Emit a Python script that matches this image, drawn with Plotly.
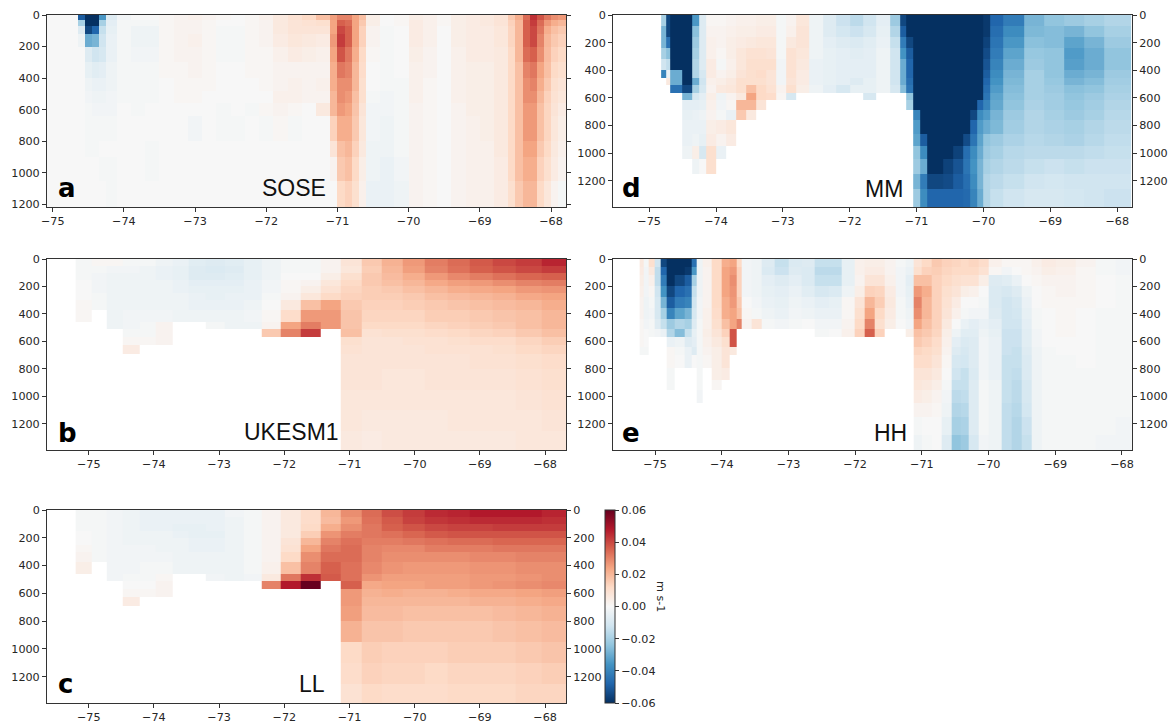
import numpy as np
import plotly.graph_objects as go

_ = None
W, H = 1176, 723
LON_TICKS = [-75, -74, -73, -72, -71, -70, -69, -68]
DEPTH_TICKS = [0, 200, 400, 600, 800, 1000, 1200]
CBAR_TICKS = [-0.06, -0.04, -0.02, 0.0, 0.02, 0.04, 0.06]
PANEL_NAMES = ["SOSE", "UKESM1", "LL", "MM", "HH"]
PANEL_LETTERS = ["a", "b", "c", "d", "e"]

# ---- values below are velocity in mm/s ----
sose_lon = [-75.08,-74.65,-74.55,-74.45,-74.35,-74.25,-74.1,-73.9,-73.7,-73.5,-73.3,-73.1,-72.9,-72.7,-72.5,-72.3,-72.1,-71.9,-71.7,-71.5,-71.3,-71.1,-71.0,-70.9,-70.8,-70.7,-70.6,-70.4,-70.2,-70,-69.8,-69.6,-69.4,-69.2,-69,-68.8,-68.6,-68.5,-68.4,-68.3,-68.2,-68.1,-68,-67.9,-67.79]
sose_depth = [0,30,70,120,200,300,400,480,560,640,800,900,1050,1217]
sose_vals = [
 [0,-50,-60,-60,-35,-8,-2,0,0,1, 2,3,2,1,0,1,3,6,9,12, 18,25,30,30,24,18,4,0,1,4, 3,1,4,5,6,8,16,22,34,44, 38,32,28,26],
 [0,-20,-60,-60,-20,-6,-1,-1,-1,1, 2,2,1,0,0,1,2,6,8,9, 10,24,36,34,24,16,4,0,1,5, 3,1,4,5,6,8,14,20,36,42, 34,26,22,20],
 [0,-8,-55,-48,-14,-5,-1,-3,-3,1, 2,2,1,-1,-1,1,2,6,8,8, 8,24,40,36,24,14,2,-1,0,5, 3,0,4,5,5,7,13,20,36,40, 32,22,18,16],
 [0,-3,-30,-28,-12,-4,-1,-3,-3,1, 2,3,1,-1,-1,1,2,5,7,6, 5,26,42,36,24,14,2,-1,0,5, 3,0,4,5,5,7,13,20,36,40, 30,20,16,14],
 [0,0,-8,-12,-10,-4,-1,-2,-2,1, 2,2,1,-1,-1,1,1,3,5,4, 3,24,38,32,22,12,1,-1,0,4, 2,0,3,5,5,6,12,20,34,36, 28,19,14,12],
 [0,0,-5,-7,-6,-3,-1,-1,-1,1, 1,2,1,0,0,1,1,2,2,2, 2,22,32,30,20,11,0,-1,0,3, 2,0,3,4,4,6,12,18,30,32, 24,18,12,10],
 [0,0,-3,-4,-4,-3,-1,-1,-1,0, 1,1,1,0,0,0,1,2,3,2, 3,22,28,28,20,10,0,-1,-1,3, 1,0,3,4,4,6,12,18,28,30, 22,16,10,8],
 [0,0,-2,-3,-3,-2,-1,-1,-1,0, 1,1,0,0,0,0,0,3,3,2, 2,20,28,26,18,10,-1,-2,-1,3, 1,0,3,4,4,6,12,18,28,28, 20,14,9,7],
 [0,0,-1,-2,-2,-2,0,-1,0,0, 0,0,0,-1,0,-1,1,2,1,0, 6,20,26,24,17,8,-2,-2,-1,2, 1,0,2,4,4,6,12,18,26,26, 18,13,8,5],
 [0,0,-1,-1,-1,-1,0,0,0,0, 0,-2,0,-1,-1,0,-1,1,-1,0, 0,14,22,22,16,7,-2,-3,-1,2, 1,0,2,3,4,6,12,18,26,26, 18,13,7,4],
 [0,0,-1,-1,0,0,0,0,-1,0, 0,0,0,0,0,0,0,0,0,0, 0,8,18,20,14,6,-3,-3,-1,2, 1,0,2,3,3,6,12,18,24,24, 16,12,6,3],
 [0,0,0,0,-1,-1,0,0,-1,0, 0,0,0,0,0,0,0,0,0,0, 0,2,16,18,12,4,-3,-4,-2,2, 1,0,2,3,3,5,12,18,22,22, 14,10,5,2],
 [0,0,0,0,0,-1,0,0,0,0, 0,0,0,0,0,0,0,0,0,0, 0,0,12,14,10,3,-4,-4,-3,2, 1,0,2,3,3,5,10,16,20,20, 12,7,2,-1],
]

model_lon = [-75.2,-74.96,-74.73,-74.48,-74.22,-73.97,-73.71,-73.46,-73.20,-72.92,-72.63,-72.35,-72.06,-71.75,-71.45,-71.13,-70.82,-70.51,-70.19,-69.85,-69.50,-69.16,-68.81,-68.45,-68.06,-67.66]
model_depth = [0,50,100,150,200,250,300,373,458,512,568,629,690,800,950,1100,1250,1390]
W15 = [_]*15
ukesm_vals = [
 [-1,1,1,-1,-1,-3,-4,-7,-8,-7, -5,-3,-1,-1,2, 8,16,21,26,31,34,37,40,42,46],
 [-1,-1,-2,-2,-3,-4,-5,-8,-9,-8, -5,-3,-1,-1,2, 7,15,20,25,30,33,36,38,40,42],
 [-1,-2,-3,-3,-3,-4,-5,-8,-8,-7, -5,-3,0,0,4, 10,16,19,22,26,29,31,33,35,36],
 [0,-2,-3,-3,-3,-3,-4,-6,-6,-6, -4,-2,1,2,7, 12,16,18,20,23,25,26,28,30,31],
 [0,-2,-3,-3,-3,-3,-4,-5,-5,-5, -4,-2,1,4,9, 13,15,16,18,20,22,23,24,26,27],
 [0,-1,-3,-3,-3,-3,-3,-4,-5,-4, -4,-1,2,7,12, 14,15,15,16,18,19,20,21,23,24],
 [1,-1,-3,-3,-3,-3,-3,-4,-4,-4, -3,0,6,18,24, 16,14,14,15,16,17,18,19,20,22],
 [1,_,-3,-2,-2,-2,-3,-3,-3,-3, -2,1,11,26,26, 17,13,13,13,15,15,16,17,18,20],
 [_,_,-3,-2,-1,2,_,_,-1,-3, -3,2,24,31,26, 17,12,12,12,13,14,15,16,18,20],
 [_,_,_,-1,-1,2,_,_,_,_, _,16,30,42,_, 18,9,10,10,11,12,13,14,16,18],
 [_,_,_,1,1,2,_,_,_,_, _,_,_,_,_, 10,8,8,9,9,10,11,11,13,15],
 [_,_,_,5,_,_,_,_,_,_, _,_,_,_,_, 9,8,8,8,9,9,9,10,12,13],
 [*W15, 8,8,8,8,8,8,9,9,10,11],
 [*W15, 8,8,7,7,8,8,8,8,9,10],
 [*W15, 7,7,7,7,7,7,7,7,8,9],
 [*W15, 7,6,6,6,6,7,7,7,7,8],
 [*W15, 6,5,6,6,6,6,6,6,7,7],
]
ll_vals = [
 [-1,-1,-2,-3,-4,-4,-4,-4,-4,-2, -1,2,6,11,20, 28,34,39,42,45,46,48,48,48,46],
 [-1,-1,-2,-3,-4,-4,-4,-4,-4,-3, -1,2,6,11,19, 26,33,37,41,43,44,45,45,45,44],
 [-1,-1,-2,-3,-4,-4,-5,-5,-4,-3, -1,2,6,12,22, 28,32,36,38,40,41,41,42,42,42],
 [0,-1,-2,-3,-3,-3,-4,-5,-5,-3, -1,2,6,15,27, 31,32,33,35,37,38,38,38,38,38],
 [0,-1,-2,-3,-3,-3,-3,-4,-4,-3, -1,2,8,20,30, 33,31,31,32,33,34,34,35,35,35],
 [1,-1,-2,-2,-2,-3,-3,-4,-4,-3, -1,2,9,24,32, 34,30,29,29,31,31,31,32,32,32],
 [2,-1,-2,-2,-2,-2,-3,-3,-3,-3, -1,2,12,28,34, 34,30,28,28,28,28,29,29,30,30],
 [4,_,-2,-2,-1,-1,-3,-3,-3,-3, -1,3,18,30,36, 33,29,27,26,26,26,27,27,28,28],
 [_,_,-2,-1,-1,1,_,_,-2,-3, -2,6,32,44,37, 33,27,25,25,25,25,26,26,27,28],
 [_,_,_,0,0,2,_,_,_,_, _,30,48,60,_, 36,23,24,24,25,25,26,27,28,29],
 [_,_,_,1,1,2,_,_,_,_, _,_,_,_,_, 26,21,22,21,21,22,23,23,24,25],
 [_,_,_,5,_,_,_,_,_,_, _,_,_,_,_, 26,20,20,20,20,20,21,21,22,23],
 [*W15, 25,19,19,18,18,18,18,19,20,21],
 [*W15, 21,17,17,16,16,16,16,17,18,19],
 [*W15, 12,15,14,14,14,15,15,15,16,17],
 [*W15, 11,14,13,13,12,13,13,13,14,15],
 [*W15, 9,12,11,11,11,12,12,12,13,13],
]

mm_lon = [-74.82,-74.75,-74.68,-74.5,-74.35,-74.25,-74.15,-74.0,-73.85,-73.7,-73.55,-73.4,-73.25,-73.1,-72.95,-72.8,-72.6,-72.4,-72.2,-72.0,-71.8,-71.6,-71.4,-71.25,-71.15,-71.05,-70.95,-70.85,-70.6,-70.45,-70.3,-70.2,-70.1,-70.0,-69.9,-69.7,-69.4,-69.1,-68.8,-68.5,-68.2,-67.8]
mm_depth = [0,80,160,240,320,400,453,510,565,618,690,763,860,945,1042,1150,1260,1387]
mm_vals = [
 [-20,-55,-60,-60,-35,-8,1,1,2,3, 3,4,4,-1,2,7,-3,-8,-13,-16, -12,-6,-22,-55,-60,-60,-60,-60,-60,-60, -60,-60,-60,-58,-48,-42,-28,-24,-22,-20,-18],
 [-28,-55,-60,-60,-25,-8,2,2,3,4, 4,5,5,-1,3,8,-3,-8,-11,-13, -10,-5,-18,-50,-60,-60,-60,-60,-60,-60, -60,-60,-60,-58,-46,-38,-27,-26,-28,-24,-20],
 [-28,-45,-60,-60,-22,-8,3,2,4,5, 6,7,7,-1,6,8,-3,-6,-8,-9, -7,-4,-14,-42,-55,-60,-60,-60,-60,-60, -60,-60,-60,-56,-44,-35,-25,-26,-32,-28,-22],
 [-20,-25,-60,-60,-20,-8,3,1,4,7, 9,9,8,-1,9,7,-3,-5,-6,-7, -6,-3,-12,-36,-50,-60,-60,-60,-60,-60, -60,-60,-60,-54,-42,-32,-23,-24,-34,-30,-24],
 [-12,-15,-60,-60,-18,-8,5,-1,3,7, 10,10,10,-2,9,6,-4,-5,-6,-6, -6,-3,-12,-30,-48,-60,-60,-60,-60,-60, -60,-60,-60,-52,-40,-30,-22,-24,-33,-30,-24],
 [-40,-4,-30,-60,-18,-10,5,2,4,8, 10,11,8,-2,9,5,-4,-5,-6,-6, -6,-3,-12,-30,-48,-60,-60,-60,-60,-60, -60,-60,-60,-50,-38,-28,-20,-24,-30,-28,-22],
 [_,6,-30,-60,-30,-12,3,4,6,10, 10,10,8,-2,8,5,-4,-5,-6,-8, -5,-3,-12,-30,-46,-60,-60,-60,-60,-60, -60,-60,-60,-48,-36,-27,-20,-23,-28,-26,-21],
 [_,_,-45,-55,-20,-10,2,6,7,10, 18,12,9,2,10,4,-3,-6,-10,-5, -5,-3,-10,-26,-44,-60,-60,-60,-60,-60, -60,-60,-60,-46,-34,-26,-20,-22,-25,-24,-20],
 [_,_,_,-28,-10,-6,4,-3,2,6, 24,12,11,1,-10,_,_,_,_,_, -10,_,_,_,-24,-60,-60,-60,-60,-60, -60,-60,-60,-44,-32,-25,-20,-21,-24,-22,-19],
 [_,_,_,-6,-6,-5,3,-2,1,20, 20,8,_,_,_,_,_,_,_,_, _,_,_,_,-20,-60,-60,-60,-60,-60, -60,-60,-48,-40,-31,-24,-19,-21,-23,-21,-18],
 [_,_,_,-5,-4,-3,2,-1,-4,16, 6,_,_,_,_,_,_,_,_,_, _,_,_,_,_,-40,-60,-60,-60,-60, -60,-55,-38,-34,-28,-22,-18,-20,-22,-20,-17],
 [_,_,_,-4,-4,-4,4,5,7,_, _,_,_,_,_,_,_,_,_,_, _,_,_,_,_,-34,-60,-60,-60,-60, -60,-48,-34,-30,-27,-21,-18,-19,-20,-18,-16],
 [_,_,_,-4,-3,-5,5,2,5,_, _,_,_,_,_,_,_,_,_,_, _,_,_,_,_,-32,-50,-60,-60,-60, -54,-44,-32,-24,-22,-19,-17,-18,-19,-17,-15],
 [_,_,_,-3,4,-10,10,-4,_,_, _,_,_,_,_,_,_,_,_,_, _,_,_,_,_,-24,-38,-60,-60,-56, -46,-38,-30,-22,-20,-17,-16,-16,-16,-15,-14],
 [_,_,_,_,-3,0,10,_,_,_, _,_,_,_,_,_,_,_,_,_, _,_,_,_,_,-22,-30,-60,-56,-52, -44,-36,-28,-20,-18,-16,-14,-13,-14,-13,-13],
 [_,_,_,_,_,_,_,_,_,_, _,_,_,_,_,_,_,_,_,_, _,_,_,_,_,-28,-42,-55,-54,-50, -46,-38,-28,-18,-16,-14,-12,-11,-12,-12,-12],
 [_,_,_,_,_,_,_,_,_,_, _,_,_,_,_,_,_,_,_,_, _,_,_,_,_,-22,-38,-48,-48,-48, -47,-40,-30,-18,-14,-12,-10,-10,-11,-12,-13],
]

hh_lon = [-75.23,-75.17,-75.1,-75.0,-74.92,-74.82,-74.7,-74.55,-74.45,-74.37,-74.28,-74.15,-74.0,-73.88,-73.78,-73.7,-73.55,-73.4,-73.2,-73.0,-72.8,-72.6,-72.4,-72.2,-72.0,-71.85,-71.7,-71.55,-71.4,-71.25,-71.13,-71.0,-70.85,-70.7,-70.55,-70.42,-70.3,-70.15,-70,-69.8,-69.65,-69.5,-69.35,-69.2,-69,-68.7,-68.4,-68.1,-67.85]
hh_depth = [0,60,120,200,280,360,440,510,570,640,700,790,880,950,1050,1150,1280,1390]
W30 = [_]*30
hh_vals = [
 [6,-1,10,-12,-55,-60,-60,-60,-45,-3, 3,12,22,24,12,-2,-3,-8,-14,-9, -8,-14,-14,-5,3,4,4,2,-1,-3, 8,12,16,14,13,12,13,11,3,1, 1,1,3,5,4,2,-1,-2],
 [5,-2,6,-15,-48,-60,-60,-58,-35,-3, 2,12,24,26,14,-2,-3,-9,-13,-8, -9,-16,-16,-5,3,5,5,2,-2,-4, 10,14,15,13,12,12,12,9,1,-2, 0,1,2,4,3,1,-1,-2],
 [4,-2,3,-15,-42,-60,-55,-50,-20,-3, 2,12,24,28,14,-2,-3,-6,-8,-6, -9,-14,-14,-5,2,8,8,3,-2,-6, 18,18,14,12,10,9,9,4,-8,-7, -4,0,1,2,2,1,0,-1],
 [3,-2,1,-12,-36,-55,-48,-45,-14,-3, 2,12,24,27,14,-2,-3,-5,-6,-4, -7,-10,-9,-3,4,14,13,5,-2,-5, 26,22,14,10,8,4,3,0,-9,-10, -8,-3,0,1,2,1,0,-1],
 [2,-3,-1,-10,-28,-50,-42,-40,-12,-2, 2,12,22,26,16,0,-2,-4,-5,-3, -4,-6,-5,1,8,20,15,6,-1,-4, 30,20,14,9,5,0,0,-1,-9,-12, -10,-4,0,1,1,1,0,-1],
 [2,-3,-2,-10,-20,-40,-32,-28,-10,-2, 3,11,22,24,18,1,-1,-3,-4,-2, -3,-4,-4,1,10,24,12,5,-1,-3, 28,20,14,8,3,-1,-2,-2,-8,-12, -11,-5,-1,0,1,0,-1,-1],
 [1,-2,-1,-8,-14,-22,-18,-20,-8,-1, 3,10,18,24,30,2,8,-1,-2,-1, 0,-2,-2,2,12,30,10,4,0,-2, 24,18,14,6,0,-4,-6,-4,-6,-12, -12,-6,-1,0,1,0,-1,-1],
 [1,0,-1,-2,-4,-18,-26,-14,-5,-1, 4,8,14,38,_,_,_,_,_,_, _,-1,0,3,14,36,14,_,_,4, 18,16,13,4,-3,-7,-7,-3,-5,-13, -13,-7,-2,0,1,0,-1,-1],
 [1,0,_,_,_,-4,-3,-8,-6,-1, 3,6,10,38,_,_,_,_,_,_, _,_,_,_,_,_,_,_,_,_, 16,14,11,3,-6,-9,-8,-2,-4,-13, -13,-7,-2,0,0,0,-1,-1],
 [-1,-1,_,_,_,1,-1,-4,-8,-1, 2,4,8,6,_,_,_,_,_,_, _,_,_,_,_,_,_,_,_,_, 13,12,10,2,-8,-10,-8,-2,-4,-13, -14,-8,-3,-1,0,0,-1,-1],
 [_,_,_,_,_,1,0,-4,0,-1, 1,4,8,_,_,_,_,_,_,_, _,_,_,_,_,_,_,_,_,_, 11,11,8,1,-10,-11,-8,-2,-4,-14, -14,-9,-3,-1,-1,0,-1,-1],
 [_,_,_,_,_,-1,_,_,_,-1, _,4,5,_,_,_,_,_,_,_, _,_,_,_,_,_,_,_,_,_, 8,8,6,0,-12,-14,-9,-2,-4,-14, -15,-9,-3,-1,-1,-1,-1,-1],
 [_,_,_,_,_,-1,_,_,_,-1, _,1,_,_,_,_,_,_,_,_, _,_,_,_,_,_,_,_,_,_, 7,6,4,-1,-14,-14,-8,-1,-3,-14, -16,-10,-3,-1,-1,-1,-1,-1],
 [_,_,_,_,_,_,_,_,_,-2, _,_,_,_,_,_,_,_,_,_, _,_,_,_,_,_,_,_,_,_, 5,4,2,-2,-16,-15,-8,-1,-3,-14, -16,-10,-3,-1,-1,-1,-1,-1],
 [*W30, 2,2,1,-3,-18,-17,-8,-1,-3,-15, -17,-11,-3,-1,-1,-1,-1,-1],
 [*W30, -1,0,0,-5,-20,-19,-8,-1,-3,-15, -18,-13,-3,-1,-1,-1,-1,-2],
 [*W30, -3,-1,0,-8,-24,-22,-10,-2,-3,-15, -18,-14,-3,-1,-1,-1,-2,-2],
]

RDBU = ["#053061","#2166ac","#4393c3","#92c5de","#d1e5f0","#f7f7f7","#fddbc7","#f4a582","#d6604d","#b2182b","#67001f"]
colorscale = [[i/10, c] for i, c in enumerate(RDBU)]

TXT = "#262626"
LINE = "#333333"
FONT = "DejaVu Sans"
FS = 11.2

# pixel boxes: left, right, top, bottom ; lon range ; depth max ; right labels
panels = [
 dict(lon=sose_lon, dep=sose_depth, z=sose_vals, box=(47,566,15,207), xr=(-75.08,-67.79), ymax=1217, rl=False, nx=294, ny=188, lx=67, ly=188),
 dict(lon=model_lon, dep=model_depth, z=ukesm_vals, box=(47,566,259,450), xr=(-75.64,-67.68), ymax=1390, rl=False, nx=291, ny=432, lx=67, ly=433),
 dict(lon=model_lon, dep=model_depth, z=ll_vals, box=(47,566,510,703), xr=(-75.64,-67.68), ymax=1390, rl=True, nx=312, ny=684, lx=65, ly=684),
 dict(lon=mm_lon, dep=mm_depth, z=mm_vals, box=(613,1132,15,207), xr=(-75.54,-67.78), ymax=1390, rl=True, nx=884, ny=189, lx=631, ly=188),
 dict(lon=hh_lon, dep=hh_depth, z=hh_vals, box=(613,1132,259,450), xr=(-75.63,-67.85), ymax=1390, rl=True, nx=890, ny=433, lx=631, ly=433),
]

fig = go.Figure()
layout = dict(width=W, height=H, margin=dict(l=0, r=0, t=0, b=0, autoexpand=False), paper_bgcolor="white", plot_bgcolor="white",
              showlegend=False, font=dict(family=FONT, size=FS, color=TXT),
              coloraxis=dict(cmin=-0.06, cmax=0.06, colorscale=colorscale,
                  colorbar=dict(x=605/W, xanchor="left", y=1-703/H, yanchor="bottom", len=193, lenmode="pixels",
                                thickness=10, thicknessmode="pixels", xpad=0, ypad=0, outlinewidth=1, outlinecolor=LINE,
                                tickvals=CBAR_TICKS, tickformat=".2f", ticks="outside", ticklen=4, tickcolor=LINE,
                                tickfont=dict(family=FONT, size=FS, color=TXT))))
annotations = [dict(xref="paper", yref="paper", x=661/W, y=1-596/H, text="m s-1", textangle=90, showarrow=False,
                    xanchor="center", yanchor="middle", font=dict(family=FONT, size=FS, color=TXT))]
extra = len(panels)
for i, p in enumerate(panels):
    n = "" if i == 0 else str(i+1)
    assert all(len(r) == len(p["lon"])-1 for r in p["z"]), i
    assert len(p["z"]) == len(p["dep"])-1, i
    z = np.array(p["z"], dtype=float)/1000.0
    fig.add_trace(go.Heatmap(x=p["lon"], y=p["dep"], z=z, coloraxis="coloraxis", xaxis="x"+n, yaxis="y"+n, hoverongaps=False))
    l, r, t, b = p["box"]
    layout["xaxis"+n] = dict(domain=[l/W, r/W], anchor="y"+n, range=list(p["xr"]), tickvals=LON_TICKS, ticks="outside", ticklen=4,
                             tickcolor=LINE, showline=True, linecolor=LINE, linewidth=1, mirror=True, showgrid=False, zeroline=False)
    layout["yaxis"+n] = dict(domain=[1-b/H, 1-t/H], anchor="x"+n, range=[p["ymax"], 0], tickvals=DEPTH_TICKS, ticks="outside", ticklen=4,
                             tickcolor=LINE, showline=True, linecolor=LINE, linewidth=1, mirror=(True if p["rl"] else "ticks"), showgrid=False, zeroline=False)
    if p["rl"]:
        extra += 1
        rn = str(extra)
        fig.add_trace(go.Scatter(x=[None], y=[None], xaxis="x"+n, yaxis="y"+rn, mode="markers", hoverinfo="skip"))
        layout["yaxis"+rn] = dict(overlaying="y"+n, side="right", anchor="x"+n, range=[p["ymax"], 0], tickvals=DEPTH_TICKS,
                                  ticks="outside", ticklen=4, tickcolor=LINE, showgrid=False, zeroline=False, showline=False)
    annotations.append(dict(xref="paper", yref="paper", x=p["nx"]/W, y=1-p["ny"]/H, text=PANEL_NAMES[i], showarrow=False,
                            xanchor="center", yanchor="middle", font=dict(family="Liberation Sans", size=23, color="#111111")))
    annotations.append(dict(xref="paper", yref="paper", x=p["lx"]/W, y=1-p["ly"]/H, text="<b>%s</b>" % PANEL_LETTERS[i], showarrow=False,
                            xanchor="center", yanchor="middle", font=dict(family="DejaVu Sans", size=26, color="black")))
layout["annotations"] = annotations
fig.update_layout(**layout)
fig.write_html("out.html", config=dict(displayModeBar=False), post_script="document.body.style.margin='0';")
